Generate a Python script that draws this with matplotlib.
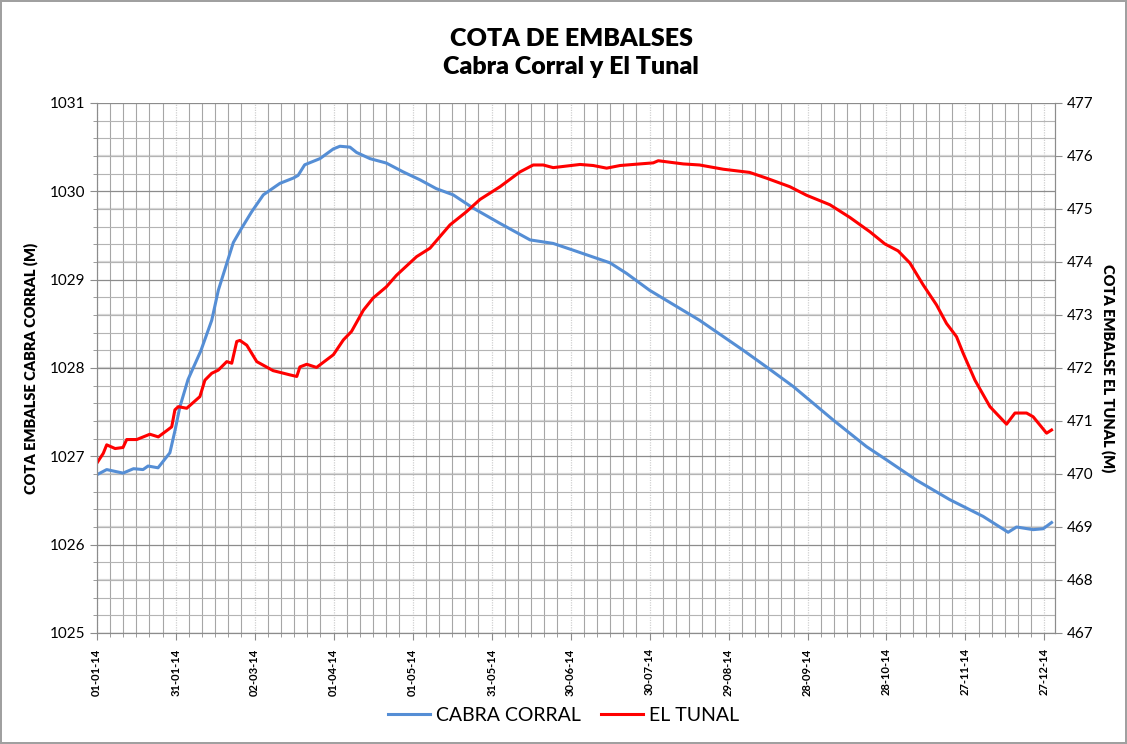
import numpy as np
import pandas as pd
import matplotlib
matplotlib.use('Agg')
import matplotlib.pyplot as plt
from matplotlib.ticker import MultipleLocator

plt.rcParams['font.family'] = ['Lato', 'DejaVu Sans']

# days counted from 01-01-2014
cabra_days = [0, 3.8, 10, 14, 17.6, 19.5, 23.3, 27.8, 29.8, 31.6, 34.7, 39.5, 43.7, 46.2,
              51.9, 55, 58.9, 63.3, 69.6, 74.7, 76.5, 79, 84.8, 89.9, 92.4, 96.2, 98.7,
              103.8, 110, 116.4, 122.8, 129, 135.4, 143, 153, 164.6, 173.4, 182.3, 195,
              201.3, 210, 229, 245.6, 254.5, 264.6, 279.8, 292.4, 300, 311.4, 324, 336.7,
              346.2, 349.4, 355.7, 359.5, 362.7]
cabra_cota = [1026.79, 1026.85, 1026.81, 1026.86, 1026.85, 1026.89, 1026.87, 1027.04,
              1027.30, 1027.56, 1027.87, 1028.19, 1028.54, 1028.88, 1029.42, 1029.58,
              1029.77, 1029.96, 1030.09, 1030.15, 1030.18, 1030.30, 1030.37, 1030.48,
              1030.51, 1030.50, 1030.44, 1030.37, 1030.32, 1030.22, 1030.13, 1030.03,
              1029.96, 1029.81, 1029.64, 1029.45, 1029.41, 1029.32, 1029.19, 1029.07,
              1028.88, 1028.54, 1028.20, 1028.01, 1027.79, 1027.41, 1027.11, 1026.96,
              1026.73, 1026.51, 1026.32, 1026.14, 1026.20, 1026.17, 1026.18, 1026.25]

tunal_days = [0, 2.5, 3.8, 7, 10, 11.4, 15.2, 20.2, 23.4, 27.2, 28.5, 29.7, 31, 34.2,
              39.2, 41.1, 43.7, 46.2, 49.4, 51.3, 53.2, 54.4, 57, 60.8, 67, 73.4, 76,
              77.2, 79.8, 83.5, 89.9, 93.7, 96.8, 101.3, 105, 110, 113.9, 121.5, 126.6,
              134.2, 140.5, 145.6, 153.2, 160.8, 165.8, 169.6, 173.4, 183.6, 188.6, 193.7,
              198.8, 203.8, 211.4, 213.3, 222.8, 229, 238, 248, 254.5, 263.3, 269.6, 278.5,
              286.1, 293.7, 299.4, 304.4, 308.9, 313.9, 319, 322.8, 326.6, 329.1, 333.6,
              339.3, 345.6, 348.8, 353.2, 355.7, 360.8, 362.7]
tunal_cota = [470.20, 470.39, 470.55, 470.48, 470.50, 470.65, 470.65, 470.75, 470.70,
              470.84, 470.89, 471.21, 471.27, 471.24, 471.46, 471.77, 471.90, 471.96,
              472.12, 472.09, 472.50, 472.52, 472.43, 472.12, 471.95, 471.87, 471.84,
              472.02, 472.07, 472.01, 472.25, 472.53, 472.69, 473.09, 473.32, 473.53,
              473.75, 474.10, 474.26, 474.70, 474.95, 475.18, 475.42, 475.70, 475.83,
              475.83, 475.78, 475.84, 475.82, 475.77, 475.82, 475.84, 475.87, 475.91,
              475.85, 475.83, 475.75, 475.69, 475.58, 475.42, 475.26, 475.08, 474.84,
              474.57, 474.34, 474.21, 473.98, 473.57, 473.19, 472.84, 472.59, 472.28,
              471.77, 471.27, 470.94, 471.15, 471.15, 471.08, 470.77, 470.83]

start = pd.Timestamp('2014-01-01')
cabra_dates = start + pd.to_timedelta(cabra_days, unit='D')
tunal_dates = start + pd.to_timedelta(tunal_days, unit='D')
tick_dates = pd.date_range('2014-01-01', periods=13, freq='30D')
tick_labels = [d.strftime('%d-%m-%y') for d in tick_dates]

left_lim = (1025, 1031)
right_lim = (467, 477)

fig = plt.figure(figsize=(11.27, 7.44), dpi=100)
fig.patch.set_edgecolor('#A0A0A0')
fig.patch.set_linewidth(1.5)
ax = fig.add_axes([0.0858, 0.1492, 0.8503, 0.7124])
ax2 = ax.twinx()

ax.set_xlim(start, start + pd.Timedelta(days=364))
ax.set_ylim(*left_lim)
ax2.set_ylim(*right_lim)

ax.yaxis.set_major_locator(MultipleLocator(1))
ax.yaxis.set_minor_locator(MultipleLocator(0.2))
ax2.yaxis.set_major_locator(MultipleLocator(1))
ax.set_xticks(tick_dates, labels=tick_labels, rotation=90, fontweight='bold', fontsize=8)
minor_days = start + pd.to_timedelta(np.arange(0, 365, 5), unit='D')
ax.set_xticks(minor_days, minor=True)

# right-axis gridlines drawn on the left axes so they stay under the lines
scale = (left_lim[1] - left_lim[0]) / (right_lim[1] - right_lim[0])
for v in range(right_lim[0] + 1, right_lim[1]):
    ax.axhline(left_lim[0] + (v - right_lim[0]) * scale, color='#D9D9D9', linewidth=1.6, zorder=0)
ax.grid(axis='y', which='minor', color='#B4B4B4', linewidth=0.8)
ax.grid(axis='y', which='major', color='#8C8C8C', linewidth=0.9)
ax.grid(axis='x', which='minor', color='#A6A6A6', linewidth=0.8)
ax.grid(axis='x', which='major', color='#D0D0D0', linewidth=0.9, linestyle=(0, (1, 1)))
ax.set_axisbelow(True)

line_c, = ax.plot(cabra_dates, cabra_cota, color='#558ED5', linewidth=2.2, label='CABRA CORRAL')
line_t, = ax2.plot(tunal_dates, tunal_cota, color='#FF0000', linewidth=2.2, label='EL TUNAL')

for a in (ax, ax2):
    for s in a.spines.values():
        s.set_color('#8C8C8C')
    a.spines['top'].set_visible(False)

ax.tick_params(axis='y', which='major', labelsize=11, length=5, color='#8C8C8C')
ax.tick_params(axis='y', which='minor', length=3, color='#8C8C8C')
ax2.tick_params(axis='y', which='major', labelsize=11, length=5, color='#8C8C8C')
ax.tick_params(axis='x', which='major', length=5, color='#8C8C8C', pad=6)
ax.tick_params(axis='x', which='minor', length=3, color='#8C8C8C')

ax.set_ylabel('COTA EMBALSE CABRA CORRAL (M)', fontsize=10.5, fontweight='heavy', labelpad=8)
ax2.set_ylabel('COTA EMBALSE EL TUNAL (M)', fontsize=10.5, fontweight='heavy',
               rotation=270, labelpad=16)

fig.suptitle('COTA DE EMBALSES\nCabra Corral y El Tunal', fontsize=18, fontweight='heavy',
             x=0.507, y=0.963, linespacing=1.35)

fig.legend(handles=[line_c, line_t], loc='center', bbox_to_anchor=(0.5, 0.038), ncol=2,
           frameon=False, fontsize=14, handlelength=2.2, columnspacing=1.0, handletextpad=0.3)

fig.savefig('out.png', dpi=100)
